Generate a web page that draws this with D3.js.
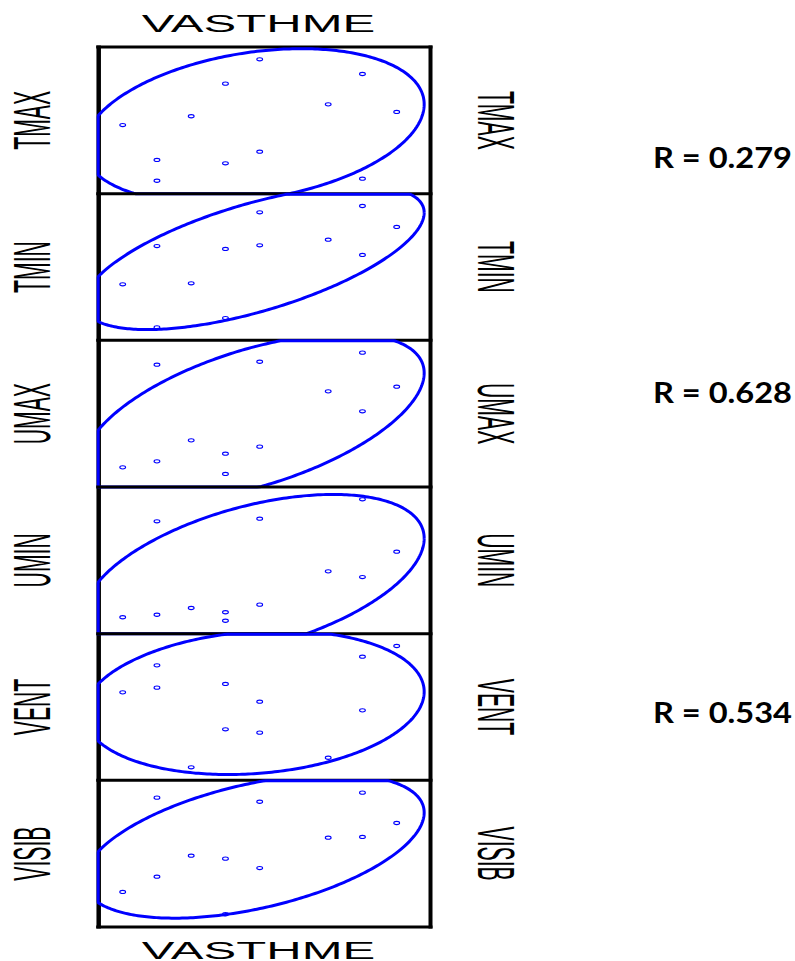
<!DOCTYPE html>
<html>
<head>
<meta charset="utf-8">
<script src="https://cdn.jsdelivr.net/npm/d3@7"></script>
<style>
  body { margin: 0; background: #fff; }
  svg { display: block; }
</style>
</head>
<body>
<svg width="795" height="961"></svg>
<script>
// x variable shared by every panel
const xName = "VASTHME";
const vasthme = [1, 2, 2, 3, 4, 4, 5, 5, 7, 8, 8, 9];

// y variables, one per panel (0-10 units)
const rowNames = ["TMAX", "TMIN", "UMAX", "UMIN", "VENT", "VISIB"];
const tmax  = [4.68, 2.30, 0.88, 5.28, 7.50, 2.07, 9.16, 2.86, 6.09, 8.16, 1.02, 5.57];
const tmin  = [3.82, 6.43, 0.89, 3.89, 6.23, 1.52, 8.73, 6.48, 6.86, 9.16, 5.82, 7.73];
const umax  = [1.34, 8.34, 1.75, 3.18, 2.27, 0.89, 8.54, 2.75, 6.52, 9.16, 5.16, 6.84];
const umin  = [1.12, 7.66, 1.29, 1.75, 1.46, 0.88, 7.84, 1.98, 4.25, 9.16, 3.86, 5.59];
const vent  = [6.00, 7.84, 6.32, 0.89, 6.57, 3.48, 5.36, 3.25, 1.54, 8.43, 4.77, 9.16];
const visib = [2.39, 8.82, 3.43, 4.86, 4.66, 0.87, 8.54, 4.02, 6.09, 9.16, 6.14, 7.09];
const rows = [tmax, tmin, umax, umin, vent, visib];

const rLabels = ["R = 0.279", "R = 0.628", "R = 0.534"];

// layout
const plotLeft = 98.7, plotRight = 430.5, plotTop = 47, plotBottom = 927;
const panelH = (plotBottom - plotTop) / rows.length;
const rLabelY = [168.3, 403.3, 723.3];
const k = 1.87; // ellipse size in standard deviations

const svg = d3.select("svg");
const blue = "#0000ff";

const x = d3.scaleLinear().domain([1, 9]).range([122.7, 396.7]);

const hLine = (yy) => svg.append("line")
    .attr("x1", plotLeft - 2.5).attr("x2", plotRight + 2)
    .attr("y1", yy).attr("y2", yy)
    .style("stroke", "#000").style("stroke-width", 3);

// side frame lines
svg.append("line")
  .attr("x1", plotLeft).attr("x2", plotLeft).attr("y1", plotTop - 1.5).attr("y2", plotBottom + 1.5)
  .style("stroke", "#000").style("stroke-width", 4.5);
svg.append("line")
  .attr("x1", plotRight).attr("x2", plotRight).attr("y1", plotTop - 1.5).attr("y2", plotBottom + 1.5)
  .style("stroke", "#000").style("stroke-width", 4);

rows.forEach((vals, i) => {
  const y0 = plotTop + i * panelH, y1 = y0 + panelH;
  const y = d3.scaleLinear().domain([0, 10]).range([y1, y0]);

  // each panel draws its top rule first, so the next panel covers this one's bottom
  hLine(y0);
  const g = svg.append("g").attr("class", "panel");

  // concentration ellipse from mean / sd / correlation
  const mx = d3.mean(vasthme), my = d3.mean(vals);
  const sx = d3.deviation(vasthme), sy = d3.deviation(vals);
  const cov = d3.sum(vasthme, (d, j) => (d - mx) * (vals[j] - my)) / (vals.length - 1);
  const r = cov / (sx * sy);
  const ts = d3.range(0, 361, 1).map(a => a * Math.PI / 180);
  const pts = ts.map(t => [
    mx + sx * k * Math.cos(t),
    my + sy * k * (r * Math.cos(t) + Math.sqrt(1 - r * r) * Math.sin(t))
  ]);
  const line = d3.line()
    .x(d => Math.max(plotLeft - 0.5, Math.min(plotRight - 1, x(d[0]))))
    .y(d => Math.max(y0 + 0.5, Math.min(y1, y(d[1]))));
  g.append("path")
    .attr("d", line(pts))
    .style("fill", "none")
    .style("stroke", blue)
    .style("stroke-width", 3);

  g.selectAll("ellipse")
    .data(vals)
    .enter()
    .append("ellipse")
      .attr("cx", (d, j) => x(vasthme[j]))
      .attr("cy", d => y(d))
      .attr("rx", 2.9)
      .attr("ry", 1.6)
      .style("fill", "none")
      .style("stroke", blue)
      .style("stroke-width", 1.1);

  // row labels, condensed
  const cy = (y0 + y1) / 2;
  svg.append("g")
    .attr("transform", `translate(31.7, ${cy})rotate(-90)scale(0.41, 1)`)
    .append("text")
      .attr("y", 18.5)
      .attr("text-anchor", "middle")
      .style("font-family", "Liberation Sans, Arial, sans-serif")
      .style("font-size", "51.7px")
      .text(rowNames[i]);
  svg.append("g")
    .attr("transform", `translate(496.5, ${cy})rotate(90)scale(0.41, 1)`)
    .append("text")
      .attr("y", 18.5)
      .attr("text-anchor", "middle")
      .style("font-family", "Liberation Sans, Arial, sans-serif")
      .style("font-size", "51.7px")
      .text(rowNames[i]);
});
hLine(plotBottom);

// column title, top and bottom, stretched
[32.3, 959].forEach(by => {
  svg.append("g")
    .attr("transform", `translate(258.5, ${by})scale(2.07, 1)`)
    .append("text")
      .attr("text-anchor", "middle")
      .style("font-family", "Liberation Sans, Arial, sans-serif")
      .style("font-size", "23.7px")
      .text(xName);
});

// correlation labels
svg.selectAll("text.rlab")
  .data(rLabels)
  .enter()
  .append("text")
    .attr("class", "rlab")
    .attr("x", 653)
    .attr("y", (d, i) => rLabelY[i])
    .attr("textLength", 139)
    .attr("lengthAdjust", "spacingAndGlyphs")
    .style("font-family", "Lato, 'Open Sans', sans-serif")
    .style("font-weight", "bold")
    .style("font-size", "28px")
    .text(d => d);
</script>
</body>
</html>
